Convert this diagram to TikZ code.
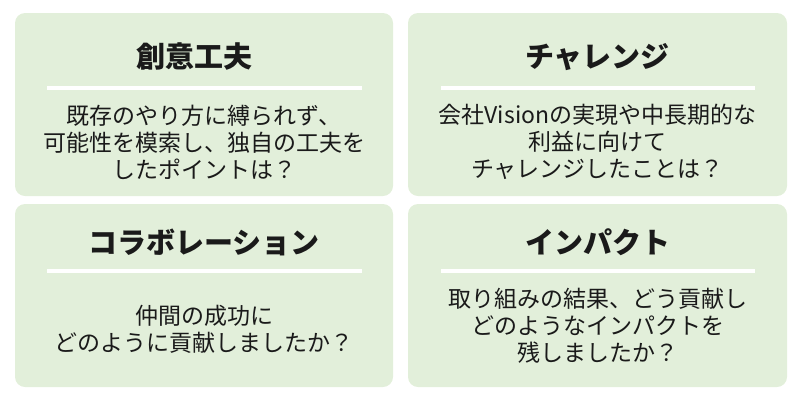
\documentclass[tikz,border=0pt]{standalone}
\usepackage{fontspec}
\newfontfamily\jp{Noto Sans CJK JP}
\definecolor{cardgreen}{HTML}{E2EFDA}
\definecolor{ink}{HTML}{1A1A1A}
\tikzset{
  card/.style={fill=cardgreen, rounded corners=10pt},
  cardtitle/.style={font=\jp\bfseries\fontsize{29}{32}\selectfont, text=ink, inner sep=0pt},
  cardbody/.style={font=\jp\fontsize{23}{27}\selectfont, text=ink, align=center, inner sep=0pt},
  cardrule/.style={draw=white, line width=4pt}
}
\begin{document}
\begin{tikzpicture}[x=1pt,y=-1pt]
\useasboundingbox (0,0) rectangle (800,400);
% boxes
\fill[card] (15,13) rectangle (393,196);
\fill[card] (408,13) rectangle (787,196);
\fill[card] (15,204) rectangle (393,387);
\fill[card] (408,204) rectangle (787,387);
% box 1
\node[cardtitle] (t1) at (194,57) {創意工夫};
\coordinate (r1a) at (47,88); \coordinate (r1b) at (362,88);
\draw[cardrule] (r1a) -- (r1b);
\node[cardbody] (b1) at (204,142) {既存のやり方に縛られず、\\可能性を模索し、独自の工夫を\\したポイントは？};
% box 2
\node[cardtitle] (t2) at (597.5,57) {チャレンジ};
\coordinate (r2a) at (441,88); \coordinate (r2b) at (755,88);
\draw[cardrule] (r2a) -- (r2b);
\node[cardbody] (b2) at (597.5,142) {会社Visionの実現や中長期的な\\利益に向けて\\チャレンジしたことは？};
% box 3
\node[cardtitle] (t3) at (204,242) {コラボレーション};
\coordinate (r3a) at (47,271); \coordinate (r3b) at (362,271);
\draw[cardrule] (r3a) -- (r3b);
\node[cardbody] (b3) at (204,329) {仲間の成功に\\どのように貢献しましたか？};
% box 4
\node[cardtitle] (t4) at (597.5,242) {インパクト};
\coordinate (r4a) at (441,271); \coordinate (r4b) at (755,271);
\draw[cardrule] (r4a) -- (r4b);
\node[cardbody] (b4) at (597.5,326) {取り組みの結果、どう貢献し\\どのようなインパクトを\\残しましたか？};
\end{tikzpicture}
\end{document}
